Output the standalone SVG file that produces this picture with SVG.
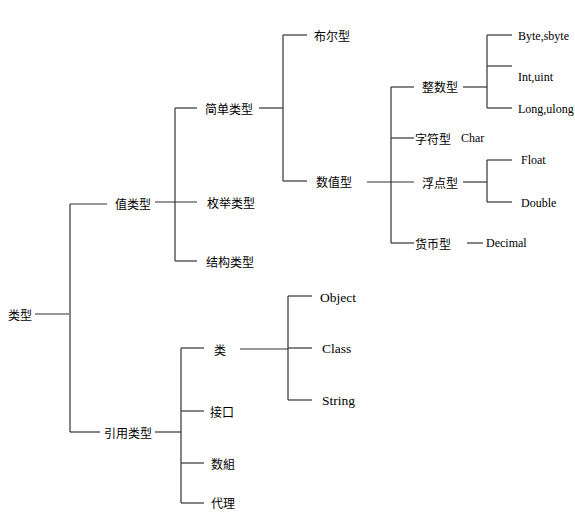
<svg xmlns="http://www.w3.org/2000/svg" width="575" height="513" viewBox="0 0 575 513">
<style>
.zh{font-family:"Noto Sans CJK SC","Noto Sans CJK JP",sans-serif;font-size:12px;fill:#000;dominant-baseline:central}
.en{font-family:"Liberation Serif",serif;font-size:12px;fill:#000;dominant-baseline:central}
.en2{font-family:"Liberation Serif",serif;font-size:13.5px;fill:#000;dominant-baseline:central}
.c line{stroke:#333;stroke-width:1.2;fill:none}
</style>
<rect width="575" height="513" fill="#fff"/>
<g class="c" id="connectors">
<line x1="35" y1="314" x2="69" y2="314"/>
<line x1="70" y1="204" x2="70" y2="432"/>
<line x1="70" y1="204" x2="107" y2="204"/>
<line x1="70" y1="432" x2="100" y2="432"/>
<line x1="155" y1="202" x2="197" y2="202"/>
<line x1="175" y1="108" x2="175" y2="261"/>
<line x1="175" y1="108" x2="197" y2="108"/>
<line x1="175" y1="261" x2="197" y2="261"/>
<line x1="259" y1="108" x2="283" y2="108"/>
<line x1="283" y1="35" x2="283" y2="181"/>
<line x1="283" y1="35" x2="307" y2="35"/>
<line x1="283" y1="181" x2="307" y2="181"/>
<line x1="367" y1="182" x2="414" y2="182"/>
<line x1="391" y1="87" x2="391" y2="243"/>
<line x1="391" y1="87" x2="414" y2="87"/>
<line x1="391" y1="138" x2="414" y2="138"/>
<line x1="391" y1="243" x2="414" y2="243"/>
<line x1="463" y1="87" x2="487" y2="87"/>
<line x1="487" y1="35" x2="487" y2="108"/>
<line x1="487" y1="35" x2="512" y2="35"/>
<line x1="487" y1="66" x2="512" y2="66"/>
<line x1="487" y1="108" x2="512" y2="108"/>
<line x1="463" y1="182" x2="487" y2="182"/>
<line x1="487" y1="160" x2="487" y2="202"/>
<line x1="487" y1="160" x2="512" y2="160"/>
<line x1="487" y1="202" x2="512" y2="202"/>
<line x1="467" y1="243" x2="483" y2="243"/>
<line x1="155" y1="432" x2="181" y2="432"/>
<line x1="181" y1="348" x2="181" y2="503"/>
<line x1="181" y1="348" x2="204" y2="348"/>
<line x1="181" y1="411" x2="204" y2="411"/>
<line x1="181" y1="463" x2="204" y2="463"/>
<line x1="181" y1="503" x2="204" y2="503"/>
<line x1="240" y1="349" x2="288" y2="349"/>
<line x1="288" y1="296" x2="288" y2="400"/>
<line x1="288" y1="296" x2="312" y2="296"/>
<line x1="288" y1="348" x2="312" y2="348"/>
<line x1="288" y1="400" x2="312" y2="400"/>
</g>
<g id="n-root"><text class="zh" x="8" y="314">类型</text></g>
<g id="n-value"><text class="zh" x="115" y="203">值类型</text></g>
<g id="n-ref"><text class="zh" x="104" y="432">引用类型</text></g>
<g id="n-simple"><text class="zh" x="205" y="108">简单类型</text></g>
<g id="n-enum"><text class="zh" x="207" y="202">枚举类型</text></g>
<g id="n-struct"><text class="zh" x="206" y="261">结构类型</text></g>
<g id="n-bool"><text class="zh" x="314" y="35">布尔型</text></g>
<g id="n-num"><text class="zh" x="316" y="181">数值型</text></g>
<g id="n-int"><text class="zh" x="422" y="86">整数型</text></g>
<g id="n-char"><text class="zh" x="415" y="138">字符型</text><text class="en" x="461" y="138">Char</text></g>
<g id="n-float"><text class="zh" x="422" y="182">浮点型</text></g>
<g id="n-dec"><text class="zh" x="415" y="243">货币型</text><text class="en" x="486" y="243">Decimal</text></g>
<g id="n-byte"><text class="en" x="518" y="36">Byte,sbyte</text></g>
<g id="n-iuint"><text class="en" x="518" y="77">Int,uint</text></g>
<g id="n-long"><text class="en" x="518" y="109">Long,ulong</text></g>
<g id="n-fl"><text class="en" x="521" y="160">Float</text></g>
<g id="n-dbl"><text class="en" x="521" y="203">Double</text></g>
<g id="n-class"><text class="zh" x="214" y="349">类</text></g>
<g id="n-iface"><text class="zh" x="210" y="411">接口</text></g>
<g id="n-arr"><text class="zh" x="211" y="463">数組</text></g>
<g id="n-deleg"><text class="zh" x="211" y="502">代理</text></g>
<g id="n-obj"><text class="en2" x="320" y="297">Object</text></g>
<g id="n-cls"><text class="en2" x="322" y="348">Class</text></g>
<g id="n-str"><text class="en2" x="322" y="400">String</text></g>
</svg>
